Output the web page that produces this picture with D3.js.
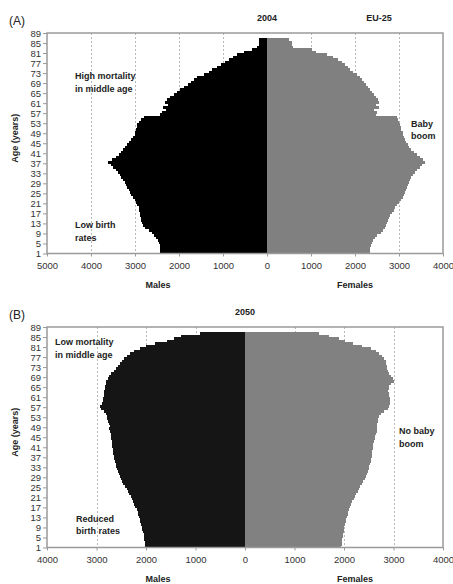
<!DOCTYPE html>
<html>
<head>
<meta charset="utf-8">
<script src="https://cdn.jsdelivr.net/npm/d3@7"></script>
<style>
  html, body { margin: 0; padding: 0; background: #fff; }
  svg { display: block; font-family: "Liberation Sans", Arial, sans-serif; }
</style>
</head>
<body>
<svg id="chart" width="453" height="584"></svg>
<script>
// Single-year ages shown in both pyramids (bar for age a spans a..a+1)
const ages = d3.range(1, 87);
const ageTicks = d3.range(1, 90, 4);

// EU-25 population by single year of age, thousands
const males2004 = [
  2430, 2430, 2440, 2440, 2460, 2480, 2520, 2560, 2620, 2690,
  2770, 2820, 2840, 2860, 2870, 2880, 2890, 2900, 2920, 2950,
  2970, 3010, 3050, 3080, 3110, 3140, 3180, 3210, 3230, 3270,
  3310, 3350, 3380, 3440, 3500, 3550, 3610, 3520, 3430, 3370,
  3320, 3270, 3230, 3180, 3140, 3100, 3050, 3010, 2990, 2970,
  2960, 2950, 2910, 2870, 2800, 2440, 2390, 2290, 2370, 2260,
  2320, 2270, 2200, 2120, 2050, 1970, 1880, 1800, 1730, 1650,
  1580, 1430, 1320, 1240, 1140, 1050, 950, 860, 770, 680,
  530, 340, 220, 190, 190, 190
];
const females2004 = [
  2330, 2330, 2340, 2360, 2380, 2420, 2450, 2510, 2580, 2640,
  2680, 2700, 2730, 2750, 2770, 2800, 2830, 2880, 2920, 2960,
  3000, 3050, 3080, 3110, 3140, 3160, 3180, 3200, 3230, 3240,
  3270, 3320, 3360, 3420, 3470, 3530, 3580, 3550, 3480, 3420,
  3340, 3270, 3230, 3200, 3170, 3140, 3110, 3090, 3080, 3050,
  3040, 3020, 3000, 2980, 2960, 2470, 2510, 2440, 2550, 2470,
  2550, 2520, 2480, 2430, 2380, 2350, 2300, 2260, 2200, 2150,
  2110, 2050, 1950, 1890, 1830, 1770, 1700, 1620, 1500, 1370,
  1120, 1030, 590, 575, 560, 500
];
const males2050 = [
  2020, 2030, 2030, 2040, 2050, 2050, 2070, 2080, 2090, 2110,
  2120, 2130, 2150, 2160, 2170, 2190, 2220, 2250, 2270, 2290,
  2310, 2340, 2360, 2390, 2420, 2460, 2480, 2510, 2530, 2550,
  2570, 2580, 2600, 2610, 2620, 2640, 2650, 2660, 2660, 2670,
  2680, 2680, 2690, 2700, 2700, 2710, 2730, 2750, 2730, 2750,
  2770, 2780, 2790, 2800, 2840, 2910, 2930, 2880, 2870, 2860,
  2850, 2850, 2840, 2830, 2820, 2810, 2800, 2770, 2740, 2700,
  2650, 2610, 2570, 2530, 2490, 2440, 2390, 2320, 2240, 2130,
  1990, 1820, 1580, 1440, 1300, 900
];
const females2050 = [
  1940, 1950, 1950, 1960, 1970, 1970, 1990, 2000, 2010, 2030,
  2040, 2050, 2070, 2080, 2090, 2110, 2130, 2150, 2170, 2200,
  2220, 2250, 2280, 2300, 2330, 2360, 2390, 2420, 2440, 2460,
  2480, 2500, 2510, 2530, 2540, 2550, 2560, 2570, 2570, 2580,
  2590, 2590, 2610, 2620, 2630, 2650, 2660, 2670, 2670, 2670,
  2680, 2690, 2710, 2750, 2810, 2880, 2900, 2920, 2930, 2920,
  2900, 2900, 2890, 2900, 2910, 2940, 3000, 2980, 2940, 2900,
  2880, 2870, 2860, 2850, 2840, 2810, 2770, 2710, 2650, 2540,
  2360, 2180, 2020, 1890, 1700, 1500
];

const ticks2004 = [-5000, -4000, -3000, -2000, -1000, 0, 1000, 2000, 3000, 4000];
const ticks2050 = [-4000, -3000, -2000, -1000, 0, 1000, 2000, 3000, 4000];

const svg = d3.select("#chart");
const frameColor = "#9a9a9a";
const textColor = "#333";

function pyramid(opt) {
  const g = svg.append("g");
  const x = d3.scaleLinear().domain(opt.domain).range([47, 443]);
  const y = d3.scaleLinear().domain([1, 89]).range([opt.bottom, opt.top]);

  // dotted reference lines at each 1000
  g.append("g").selectAll("line")
    .data(opt.ticks.filter(t => t !== 0 && t !== opt.domain[0] && t !== opt.domain[1]))
    .join("line")
    .attr("x1", d => Math.round(x(d)) + 0.5).attr("x2", d => Math.round(x(d)) + 0.5)
    .attr("y1", opt.top).attr("y2", opt.bottom)
    .attr("stroke", "#b8b8b8").attr("stroke-width", 1)
    .attr("stroke-dasharray", "2,2");

  // male bars to the left of zero
  g.append("g").attr("shape-rendering", "crispEdges").selectAll("rect")
    .data(ages)
    .join("rect")
    .attr("x", (a, i) => x(-opt.males[i]))
    .attr("y", a => y(a + 1))
    .attr("width", (a, i) => x(0) - x(-opt.males[i]))
    .attr("height", a => y(a) - y(a + 1) + 0.6)
    .attr("fill", opt.maleColor);

  // female bars to the right of zero
  g.append("g").attr("shape-rendering", "crispEdges").selectAll("rect")
    .data(ages)
    .join("rect")
    .attr("x", x(0))
    .attr("y", a => y(a + 1))
    .attr("width", (a, i) => x(opt.females[i]) - x(0))
    .attr("height", a => y(a) - y(a + 1) + 0.6)
    .attr("fill", opt.femaleColor);

  // frame
  g.append("rect")
    .attr("x", 47).attr("y", opt.top)
    .attr("width", 396).attr("height", opt.bottom - opt.top)
    .attr("fill", "none").attr("stroke", frameColor).attr("stroke-width", 1.5);

  // age axis
  const yAxis = d3.axisLeft(y).tickValues(ageTicks).tickSize(4).tickPadding(2);
  const ya = g.append("g").attr("transform", "translate(47,0)").call(yAxis);
  ya.select(".domain").remove();
  ya.selectAll(".tick line").attr("stroke", frameColor);
  ya.selectAll(".tick text")
    .attr("fill", textColor).attr("font-size", 9.5)
    .attr("font-family", "Liberation Sans, Arial, sans-serif");

  // population axis (absolute values either side of zero)
  const xAxis = d3.axisBottom(x).tickValues(opt.ticks).tickSize(3).tickPadding(6)
    .tickFormat(d => String(Math.abs(d)));
  const xa = g.append("g").attr("transform", `translate(0,${opt.bottom})`).call(xAxis);
  xa.select(".domain").remove();
  xa.selectAll(".tick line").attr("stroke", frameColor);
  xa.selectAll(".tick text")
    .attr("fill", textColor).attr("font-size", 9.5)
    .attr("font-family", "Liberation Sans, Arial, sans-serif");

  // titles and axis names
  g.append("text").attr("x", 9).attr("y", opt.top - 8)
    .attr("font-size", 12).attr("fill", "#222").text(opt.panel);
  g.append("text").attr("x", x(0)).attr("y", opt.top - 12)
    .attr("text-anchor", "middle").attr("font-size", 9).attr("font-weight", "bold")
    .attr("fill", "#222").text(opt.year);
  if (opt.region) {
    g.append("text").attr("x", 379).attr("y", opt.top - 12)
      .attr("text-anchor", "middle").attr("font-size", 9).attr("font-weight", "bold")
      .attr("fill", "#222").text(opt.region);
  }
  g.append("text")
    .attr("transform", `translate(18,${(opt.top + opt.bottom) / 2 - 5}) rotate(-90)`)
    .attr("text-anchor", "middle").attr("font-size", 9).attr("font-weight", "bold")
    .attr("fill", "#222").text("Age (years)");
  g.append("text").attr("x", 158).attr("y", opt.bottom + 34)
    .attr("text-anchor", "middle").attr("font-size", 9).attr("font-weight", "bold")
    .attr("fill", "#222").text("Males");
  g.append("text").attr("x", 355).attr("y", opt.bottom + 34)
    .attr("text-anchor", "middle").attr("font-size", 9).attr("font-weight", "bold")
    .attr("fill", "#222").text("Females");

  // annotations
  opt.notes.forEach(n => {
    const t = g.append("text").attr("x", n.x).attr("y", n.y)
      .attr("font-size", 9).attr("font-weight", "bold").attr("fill", "#222");
    n.lines.forEach((s, i) => {
      t.append("tspan").attr("x", n.x).attr("dy", i === 0 ? 0 : 12.5).text(s);
    });
  });
}

pyramid({
  panel: "(A)", year: "2004", region: "EU-25",
  top: 33, bottom: 253.5,
  domain: [-5000, 4000], ticks: ticks2004,
  males: males2004, females: females2004,
  maleColor: "#000000", femaleColor: "#808080",
  notes: [
    { x: 75, y: 79, lines: ["High mortality", "in middle age"] },
    { x: 75, y: 228, lines: ["Low birth", "rates"] },
    { x: 411, y: 126.5, lines: ["Baby", "boom"] }
  ]
});

pyramid({
  panel: "(B)", year: "2050", region: null,
  top: 327, bottom: 547.5,
  domain: [-4000, 4000], ticks: ticks2050,
  males: males2050, females: females2050,
  maleColor: "#151515", femaleColor: "#818181",
  notes: [
    { x: 55, y: 345, lines: ["Low mortality", "in middle age"] },
    { x: 76, y: 521.5, lines: ["Reduced", "birth rates"] },
    { x: 399, y: 434, lines: ["No baby", "boom"] }
  ]
});
</script>
</body>
</html>
